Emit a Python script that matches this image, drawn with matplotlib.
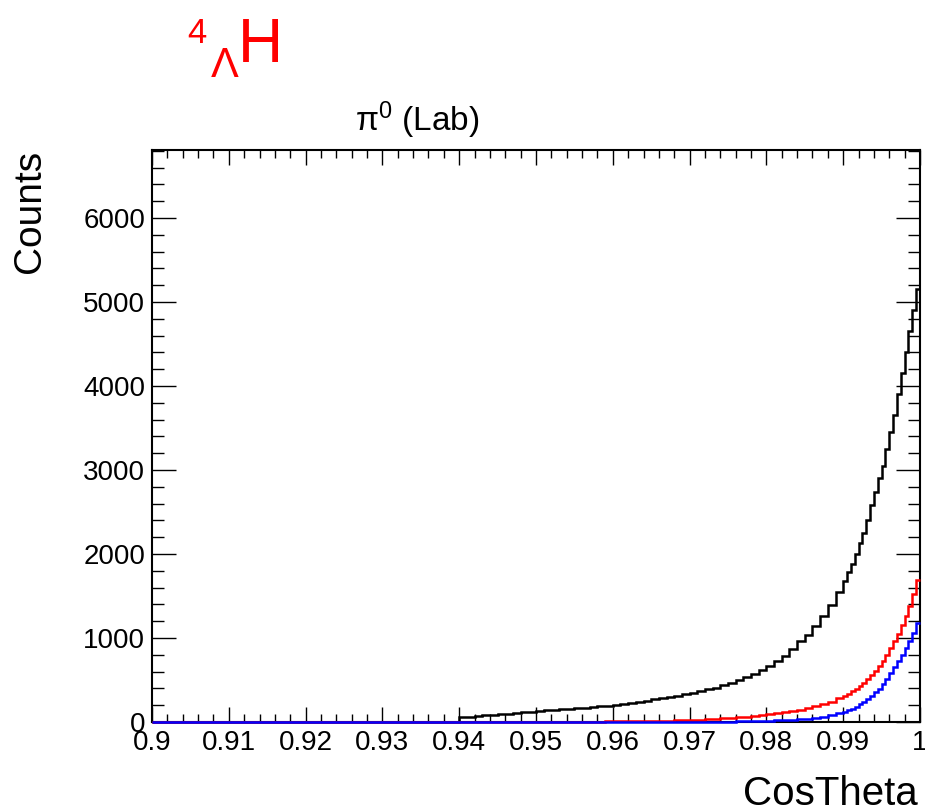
import numpy as np
import matplotlib
matplotlib.use("Agg")
import matplotlib.pyplot as plt
from matplotlib.ticker import MultipleLocator, FixedLocator

plt.rcParams['font.family'] = ['Liberation Sans', 'DejaVu Sans']
plt.rcParams['mathtext.fontset'] = 'custom'
plt.rcParams['mathtext.rm'] = 'Liberation Sans'
plt.rcParams['mathtext.it'] = 'Liberation Sans:italic'

# ---- data (bin heights) ----
x_min, x_max = 0.90, 1.00
coarse_w = 0.001
fine_w = 0.0005
fine_start = 0.990

black_start = 0.940
black_coarse = [56, 63, 70, 78, 85, 93, 100, 108, 116, 124,
                131, 138, 145, 152, 158, 165, 172, 178, 185, 195,
                205, 215, 228, 242, 255, 268, 282, 295, 310, 330,
                348, 365, 390, 410, 435, 465, 500, 535, 575, 625,
                670, 730, 790, 870, 960, 1040, 1140, 1260, 1390, 1550]
black_fine = [1680, 1780, 1880, 2000, 2130, 2250, 2400, 2580, 2740, 2900,
              3050, 3250, 3450, 3650, 3900, 4150, 4400, 4650, 4900, 5150]

red_start = 0.956
red_coarse = [3, 4, 5, 6, 7, 8, 9, 10, 12, 13, 15, 17, 19, 22, 25, 28,
              32, 37, 42, 48, 55, 63, 72, 82, 92, 105, 118, 132, 148, 165,
              185, 210, 240, 285]
red_fine = [310, 335, 365, 395, 430, 470, 510, 560, 610, 670,
            730, 800, 880, 960, 1050, 1150, 1260, 1380, 1520, 1690]

blue_start = 0.972
blue_coarse = [2, 3, 4, 5, 6, 8, 10, 12, 15, 18, 22, 27, 33, 40, 50, 62, 78, 105]
blue_fine = [120, 138, 158, 180, 212, 242, 272, 308, 352, 398,
             452, 515, 580, 650, 722, 800, 880, 965, 1060, 1180]

x_ticks = [0.90, 0.91, 0.92, 0.93, 0.94, 0.95, 0.96, 0.97, 0.98, 0.99, 1.00]
x_ticklabels = ["0.9", "0.91", "0.92", "0.93", "0.94", "0.95", "0.96", "0.97", "0.98", "0.99", "1"]
y_ticks = [0, 1000, 2000, 3000, 4000, 5000, 6000]
y_max = 6810


def hist_arrays(start, coarse, fine):
    n_c = len(coarse)
    n_f = len(fine)
    edges_c = start + coarse_w * np.arange(n_c + 1)
    edges_f = fine_start + fine_w * np.arange(1, n_f + 1)
    edges = np.concatenate([[x_min], edges_c, edges_f])
    vals = np.array([0] + list(coarse) + list(fine), dtype=float)
    return edges, vals


W, H = 925, 809
fig = plt.figure(figsize=(W / 100, H / 100), dpi=100)
ax = fig.add_axes([152 / W, 1 - 722 / H, (920 - 152) / W, (722 - 150) / H])

for start, coarse, fine, col in [(black_start, black_coarse, black_fine, 'black'),
                                 (red_start, red_coarse, red_fine, '#ff0000'),
                                 (blue_start, blue_coarse, blue_fine, '#0000ff')]:
    e, v = hist_arrays(start, coarse, fine)
    ax.stairs(v, e, color=col, linewidth=1.8, baseline=None, clip_on=False, zorder=3)

ax.set_xlim(x_min, x_max)
ax.set_ylim(0, y_max)
ax.xaxis.set_major_locator(FixedLocator(x_ticks))
ax.set_xticklabels(x_ticklabels)
ax.xaxis.set_minor_locator(MultipleLocator(0.002))
ax.yaxis.set_major_locator(FixedLocator(y_ticks))
ax.yaxis.set_minor_locator(MultipleLocator(200))

ax.tick_params(which='both', direction='in', top=True, right=True, width=1.0, colors='black')
ax.tick_params(axis='x', which='major', length=10.8, pad=6, labelsize=20)
ax.tick_params(axis='x', which='minor', length=5.8)
ax.tick_params(axis='y', which='major', length=17, pad=5, labelsize=20)
ax.tick_params(axis='y', which='minor', length=8.6)
for s in ax.spines.values():
    s.set_linewidth(1.5)

# axis titles
fig.text(918 / W, 1 - 805 / H, "CosTheta", ha='right', va='baseline', fontsize=29)
fig.text(30 / W, 1 - 150 / H, "Counts", ha='center', va='top', rotation=90, fontsize=28)

# histogram title
fig.text(417 / W, 1 - 131 / H, r"π$^{\mathrm{0}}$ (Lab)", ha='center', va='baseline', fontsize=24)

# red label  ^{4}_{Λ}H
fig.text(187 / W, 1 - 43 / H, "4", ha='left', va='baseline', fontsize=25, color='#ff0000')
fig.text(211 / W, 1 - 77 / H, "Λ", ha='left', va='baseline', fontsize=30, color='#ff0000')
fig.text(238 / W, 1 - 62 / H, "H", ha='left', va='baseline', fontsize=45, color='#ff0000')

fig.savefig("out.png", dpi=100)
